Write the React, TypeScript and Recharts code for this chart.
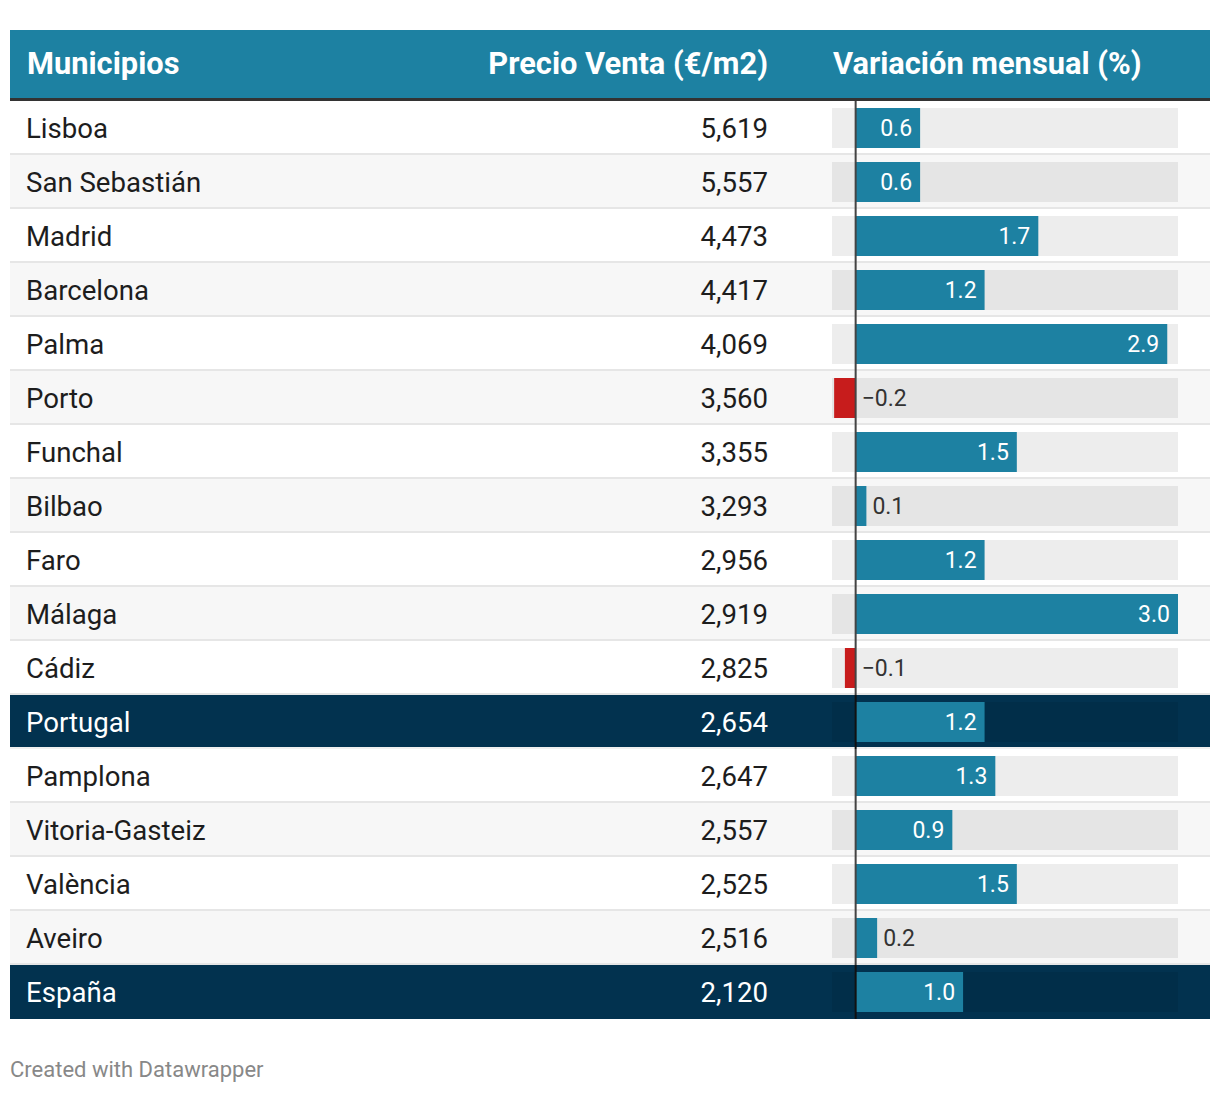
import * as React from 'react';
import { BarChart, Bar, XAxis, YAxis } from 'recharts';

const municipios = ['Lisboa','San Sebastián','Madrid','Barcelona','Palma','Porto','Funchal','Bilbao','Faro','Málaga','Cádiz','Portugal','Pamplona','Vitoria-Gasteiz','València','Aveiro','España'];
const precios = [5619,5557,4473,4417,4069,3560,3355,3293,2956,2919,2825,2654,2647,2557,2525,2516,2120];
const variacion = [0.6,0.6,1.7,1.2,2.9,-0.2,1.5,0.1,1.2,3.0,-0.1,1.2,1.3,0.9,1.5,0.2,1.0];
const destacados = ['Portugal','España'];
const columnas = ['Municipios','Precio Venta (€/m2)','Variación mensual (%)'];

const data = municipios.map((m,i)=>({ municipio: m, precio: precios[i], variacion: variacion[i] }));

const W = 1200, ROW_H = 54, BAR_H = 40;
const M_LEFT = 822, M_RIGHT = 32;
const TEAL = '#1d81a2', NAVY = '#02324f', RED = '#c71c1c';
const FONT = 'Roboto, "Noto Sans", sans-serif';

const fmt = (v:number)=> (v<0?'\u2212':'') + Math.abs(v).toFixed(1);

function RowShape(props:any){
  const { x, y, width, height, payload, index } = props;
  const top = y - (ROW_H - height)/2;
  const dark = destacados.includes(payload.municipio);
  const rowFill = dark ? NAVY : (index%2 ? '#f7f7f7' : '#ffffff');
  const txt = dark ? '#ffffff' : '#1d1d1d';
  const mid = top + ROW_H/2;
  const v = payload.variacion;
  const x0 = Math.min(x, x+width), w = Math.abs(width);
  const inside = v>0 && w>50;
  const last = index===municipios.length-1;
  return (
    <g>
      <rect x={0} y={top} width={W} height={ROW_H} fill={rowFill} />
      {!last && <rect x={0} y={top+ROW_H-2} width={W} height={2} fill={dark ? '#f0f0f0' : '#e6e6e6'} />}
      <text x={16} y={mid+10} fontSize={27.6} fill={txt} fontFamily={FONT}>{payload.municipio}</text>
      <text x={758} y={mid+10} fontSize={27.6} fill={txt} fontFamily={FONT} textAnchor="end">{payload.precio.toLocaleString('en-US')}</text>
      <rect x={M_LEFT} y={y} width={W-M_LEFT-M_RIGHT} height={height} fill="#000" fillOpacity={0.07} />
      <rect x={x0} y={y} width={w} height={height} fill={v<0 ? RED : TEAL} />
      <rect x={x-1} y={top} width={2} height={ROW_H} fill={dark ? '#111' : '#444'} />
      {inside
        ? <text x={x+width-8} y={mid+8} fontSize={23} fill="#fff" fontFamily={FONT} textAnchor="end">{fmt(v)}</text>
        : <text x={(v<0 ? x : x+width)+6} y={mid+8} fontSize={23} fill={dark ? '#fff' : '#333'} fontFamily={FONT}>{fmt(v)}</text>}
    </g>
  );
}

export default function App(){
  return (
    <div style={{position:'absolute', left:0, top:0, width:1220, height:1094, background:'#fff', fontFamily:FONT}}>
      <div style={{position:'absolute', left:10, top:30, width:W, height:68, background:TEAL, borderBottom:'3px solid #333', color:'#fff', fontWeight:700, fontSize:30.8, lineHeight:'31px'}}>
        <span style={{position:'absolute', left:17, top:18}}>{columnas[0]}</span>
        <span style={{position:'absolute', right:W-758, top:18}}>{columnas[1]}</span>
        <span style={{position:'absolute', left:823, top:18}}>{columnas[2]}</span>
      </div>
      <div style={{position:'absolute', left:10, top:101}}>
        <BarChart width={W} height={ROW_H*municipios.length} data={data} layout="vertical" margin={{top:0,right:M_RIGHT,bottom:0,left:M_LEFT}} barSize={BAR_H}>
          <XAxis type="number" domain={[-0.22, 3]} hide />
          <YAxis type="category" dataKey="municipio" hide />
          <Bar dataKey="variacion" isAnimationActive={false} shape={RowShape} />
        </BarChart>
      </div>
      <div style={{position:'absolute', left:10, top:1059, fontSize:22, lineHeight:'22px', color:'#888'}}>Created with Datawrapper</div>
    </div>
  );
}
